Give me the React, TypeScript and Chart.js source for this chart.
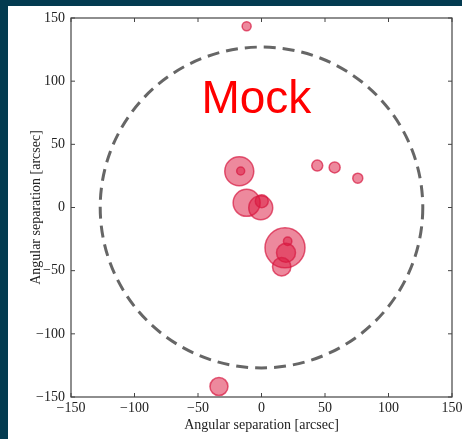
import React, { useEffect, useRef } from "react";
import { Chart, registerables } from "chart.js";

Chart.register(...registerables);

// Source positions (arcsec) and marker radii (px)
const xs = [-11.7, -33.5, -17.5, -16.4, -11.7, -0.6, 0.2, 18.5, 20.6, 19.3, 15.9, 43.9, 57.6, 75.8];
const ys = [143.5, -141.7, 28.7, 28.9, 3.7, -0.2, 5.0, -31.9, -26.7, -35.9, -46.9, 33.2, 31.7, 23.2];
const sizes = [4.5, 9, 14.5, 4, 13.5, 12, 6.5, 20, 4.2, 9.5, 9.2, 5.5, 5.5, 5];

const tickValues = [-150, -100, -50, 0, 50, 100, 150];
const fovRadius = 127; // arcsec
const axisTitle = "Angular separation [arcsec]";
const stampText = "Mock";
const stampAt = { x: -4, y: 75 };

const SERIF = "'Liberation Serif', 'DejaVu Serif', serif";
const fmt = (v: number) => (v < 0 ? "\u2212" + Math.abs(v) : String(v));

// Frame, ticks, labels, field-of-view circle and stamp text
const framePlugin = {
  id: "frame",
  afterDatasetsDraw(chart: any) {
    const { ctx, chartArea: a, scales } = chart;
    const sx = scales.x;
    const sy = scales.y;
    ctx.save();

    // dashed field-of-view circle
    const cx = sx.getPixelForValue(0);
    const cy = sy.getPixelForValue(0);
    const rx = sx.getPixelForValue(fovRadius) - cx;
    const ry = cy - sy.getPixelForValue(fovRadius);
    ctx.beginPath();
    ctx.ellipse(cx, cy, rx, ry, 0, 0, Math.PI * 2);
    ctx.setLineDash([12, 7]);
    ctx.lineWidth = 3;
    ctx.strokeStyle = "#666666";
    ctx.stroke();
    ctx.setLineDash([]);

    // stamp text
    ctx.fillStyle = "#ff0000";
    ctx.font = "46px 'Liberation Sans', Arial, sans-serif";
    ctx.textAlign = "center";
    ctx.textBaseline = "alphabetic";
    ctx.fillText(stampText, sx.getPixelForValue(stampAt.x), sy.getPixelForValue(stampAt.y));

    // spines
    ctx.strokeStyle = "#444444";
    ctx.lineWidth = 1.2;
    ctx.strokeRect(a.left, a.top, a.right - a.left, a.bottom - a.top);

    // inward ticks on all four sides
    ctx.lineWidth = 1;
    const L = 4;
    ctx.beginPath();
    tickValues.forEach((v) => {
      const px = sx.getPixelForValue(v);
      ctx.moveTo(px, a.bottom);
      ctx.lineTo(px, a.bottom - L);
      ctx.moveTo(px, a.top);
      ctx.lineTo(px, a.top + L);
      const py = sy.getPixelForValue(v);
      ctx.moveTo(a.left, py);
      ctx.lineTo(a.left + L, py);
      ctx.moveTo(a.right, py);
      ctx.lineTo(a.right - L, py);
    });
    ctx.stroke();

    // tick labels
    ctx.fillStyle = "#222222";
    ctx.font = `14px ${SERIF}`;
    ctx.textAlign = "right";
    ctx.textBaseline = "middle";
    tickValues.forEach((v) => {
      ctx.fillText(fmt(v), a.left - 6, sy.getPixelForValue(v));
    });
    ctx.textAlign = "center";
    tickValues.forEach((v) => {
      ctx.fillText(fmt(v), sx.getPixelForValue(v), a.bottom + 11);
    });

    // axis titles
    ctx.fillText(axisTitle, (a.left + a.right) / 2, a.bottom + 28);
    ctx.translate(28, (a.top + a.bottom) / 2);
    ctx.rotate(-Math.PI / 2);
    ctx.fillText(axisTitle, 0, 0);
    ctx.restore();
  },
};

export default function App() {
  const ref = useRef<HTMLCanvasElement | null>(null);

  useEffect(() => {
    if (!ref.current) return;
    const points = xs.map((x, i) => ({ x, y: ys[i], r: sizes[i] }));
    const chart = new Chart(ref.current, {
      type: "bubble",
      data: {
        datasets: [
          {
            data: points,
            backgroundColor: "rgba(220, 20, 60, 0.5)",
            borderColor: "rgba(215, 25, 65, 0.7)",
            borderWidth: 1.5,
          },
        ],
      },
      options: {
        responsive: false,
        animation: false,
        events: [],
        layout: {
          autoPadding: false,
          padding: { top: 12, right: 10, left: 63, bottom: 42 },
        },
        plugins: { legend: { display: false }, tooltip: { enabled: false } },
        scales: {
          x: { type: "linear", min: -150, max: 150, display: false },
          y: { type: "linear", min: -150, max: 150, display: false },
        },
      },
      plugins: [framePlugin],
    });
    return () => chart.destroy();
  }, []);

  return (
    <div
      style={{
        position: "fixed",
        left: 0,
        top: 0,
        width: 462,
        height: 439,
        background: "#033b50",
        overflow: "hidden",
      }}
    >
      <div
        style={{
          position: "absolute",
          left: 8,
          top: 6,
          width: 454,
          height: 433,
          background: "#ffffff",
        }}
      >
        <canvas ref={ref} width={454} height={433} style={{ display: "block" }} />
      </div>
    </div>
  );
}
